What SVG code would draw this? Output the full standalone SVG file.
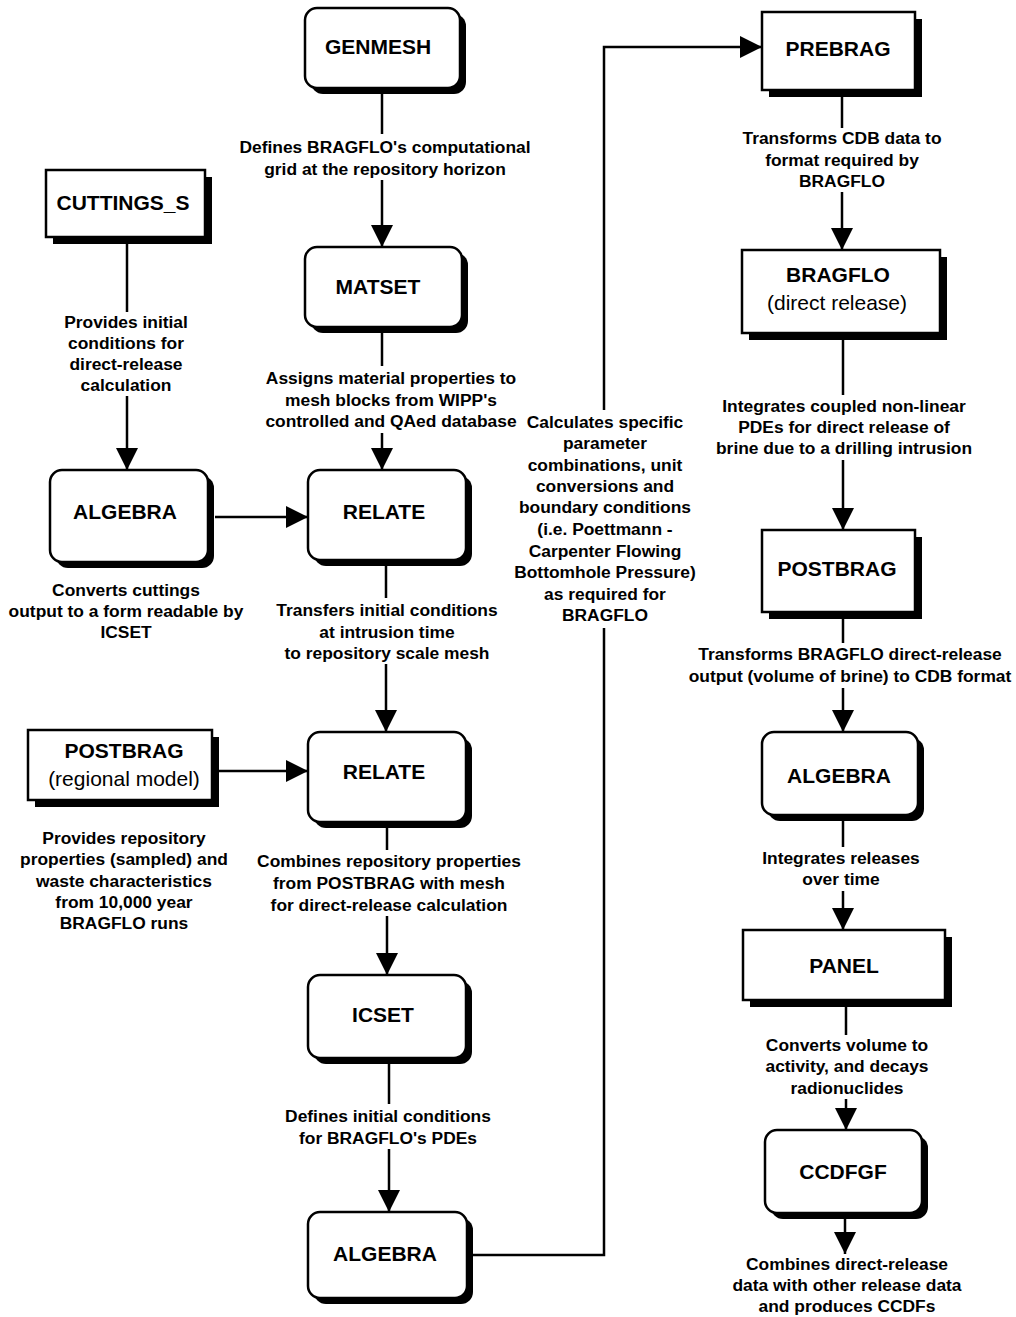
<svg xmlns="http://www.w3.org/2000/svg" width="1016" height="1317" viewBox="0 0 1016 1317">
<style>
.bg{fill:#fff}
.box{fill:#fff;stroke:#000;stroke-width:2.5}
.sh{fill:#000}
.name{font-family:"Liberation Sans",Arial,sans-serif;font-weight:bold;font-size:21px;text-anchor:middle;fill:#000}
.sub{font-family:"Liberation Sans",Arial,sans-serif;font-size:21px;text-anchor:middle;fill:#000}
.desc{font-family:"Liberation Sans",Arial,sans-serif;font-weight:bold;font-size:17.4px;text-anchor:middle;fill:#000}
.conn{stroke:#000;stroke-width:2.5;fill:none}
</style>
<defs>
<marker id="arr" markerUnits="userSpaceOnUse" markerWidth="22" markerHeight="22" refX="22" refY="11" orient="auto">
<path d="M0,0 L22,11 L0,22 z" fill="#000"/>
</marker>
</defs>
<rect class="bg" x="0" y="0" width="1016" height="1317"/>

<g id="connectors">
<line class="conn" x1="382" y1="88" x2="382" y2="134"/>
<line class="conn" x1="382" y1="180" x2="382" y2="247" marker-end="url(#arr)"/>
<line class="conn" x1="382" y1="327" x2="382" y2="366"/>
<line class="conn" x1="382" y1="433" x2="382" y2="470" marker-end="url(#arr)"/>
<line class="conn" x1="386" y1="560" x2="386" y2="598"/>
<line class="conn" x1="386" y1="664" x2="386" y2="732" marker-end="url(#arr)"/>
<line class="conn" x1="387" y1="822" x2="387" y2="850"/>
<line class="conn" x1="387" y1="916" x2="387" y2="975" marker-end="url(#arr)"/>
<line class="conn" x1="389" y1="1058" x2="389" y2="1104"/>
<line class="conn" x1="389" y1="1149" x2="389" y2="1212" marker-end="url(#arr)"/>
<polyline class="conn" points="467,1255 604,1255 604,628"/>
<polyline class="conn" points="604,410 604,47 762,47" marker-end="url(#arr)"/>
<line class="conn" x1="127" y1="237" x2="127" y2="312"/>
<line class="conn" x1="127" y1="396" x2="127" y2="470" marker-end="url(#arr)"/>
<line class="conn" x1="215" y1="517" x2="308" y2="517" marker-end="url(#arr)"/>
<line class="conn" x1="218" y1="771" x2="308" y2="771" marker-end="url(#arr)"/>
<line class="conn" x1="842" y1="90" x2="842" y2="128"/>
<line class="conn" x1="842" y1="192" x2="842" y2="250" marker-end="url(#arr)"/>
<line class="conn" x1="843" y1="333" x2="843" y2="395"/>
<line class="conn" x1="843" y1="460" x2="843" y2="530" marker-end="url(#arr)"/>
<line class="conn" x1="843" y1="612" x2="843" y2="643"/>
<line class="conn" x1="843" y1="688" x2="843" y2="732" marker-end="url(#arr)"/>
<line class="conn" x1="843" y1="815" x2="843" y2="847"/>
<line class="conn" x1="843" y1="891" x2="843" y2="930" marker-end="url(#arr)"/>
<line class="conn" x1="846" y1="1000" x2="846" y2="1035"/>
<line class="conn" x1="846" y1="1099" x2="846" y2="1130" marker-end="url(#arr)"/>
<line class="conn" x1="845" y1="1213" x2="845" y2="1254" marker-end="url(#arr)"/>
</g>

<g id="genmesh">
<rect class="sh" x="311" y="14" width="155" height="80" rx="12"/>
<rect class="box" x="305" y="8" width="155" height="80" rx="12"/>
<text class="name" x="378" y="54">GENMESH</text>
</g>
<text class="desc" x="385" y="153">Defines BRAGFLO's computational</text>
<text class="desc" x="385" y="175">grid at the repository horizon</text>

<g id="cuttings_s">
<rect class="sh" x="53" y="177" width="159" height="67"/>
<rect class="box" x="46" y="170" width="159" height="67"/>
<text class="name" x="123" y="210">CUTTINGS_S</text>
</g>
<text class="desc" x="126" y="328">Provides initial</text>
<text class="desc" x="126" y="349">conditions for</text>
<text class="desc" x="126" y="370">direct-release</text>
<text class="desc" x="126" y="391">calculation</text>

<g id="matset">
<rect class="sh" x="311" y="253" width="157" height="80" rx="12"/>
<rect class="box" x="305" y="247" width="157" height="80" rx="12"/>
<text class="name" x="378" y="294">MATSET</text>
</g>
<text class="desc" x="391" y="384">Assigns material properties to</text>
<text class="desc" x="391" y="406">mesh blocks from WIPP's</text>
<text class="desc" x="391" y="427">controlled and QAed database</text>

<g id="algebra_left">
<rect class="sh" x="56" y="476" width="158" height="92" rx="12"/>
<rect class="box" x="50" y="470" width="158" height="92" rx="12"/>
<text class="name" x="125" y="519">ALGEBRA</text>
</g>
<text class="desc" x="126" y="596">Converts cuttings</text>
<text class="desc" x="126" y="617">output to a form readable by</text>
<text class="desc" x="126" y="638">ICSET</text>

<g id="relate_1">
<rect class="sh" x="314" y="476" width="158" height="90" rx="12"/>
<rect class="box" x="308" y="470" width="158" height="90" rx="12"/>
<text class="name" x="384" y="519">RELATE</text>
</g>
<text class="desc" x="387" y="616">Transfers initial conditions</text>
<text class="desc" x="387" y="638">at intrusion time</text>
<text class="desc" x="387" y="659">to repository scale mesh</text>

<g id="postbrag_regional">
<rect class="sh" x="35" y="737" width="184" height="70"/>
<rect class="box" x="28" y="730" width="184" height="70"/>
<text class="name" x="124" y="758">POSTBRAG</text>
<text class="sub" x="124" y="786">(regional model)</text>
</g>
<text class="desc" x="124" y="844">Provides repository</text>
<text class="desc" x="124" y="865">properties (sampled) and</text>
<text class="desc" x="124" y="887">waste characteristics</text>
<text class="desc" x="124" y="908">from 10,000 year</text>
<text class="desc" x="124" y="929">BRAGFLO runs</text>

<g id="relate_2">
<rect class="sh" x="314" y="738" width="158" height="90" rx="12"/>
<rect class="box" x="308" y="732" width="158" height="90" rx="12"/>
<text class="name" x="384" y="779">RELATE</text>
</g>
<text class="desc" x="389" y="867">Combines repository properties</text>
<text class="desc" x="389" y="889">from POSTBRAG with mesh</text>
<text class="desc" x="389" y="911">for direct-release calculation</text>

<g id="icset">
<rect class="sh" x="314" y="981" width="158" height="83" rx="12"/>
<rect class="box" x="308" y="975" width="158" height="83" rx="12"/>
<text class="name" x="383" y="1022">ICSET</text>
</g>
<text class="desc" x="388" y="1122">Defines initial conditions</text>
<text class="desc" x="388" y="1144">for BRAGFLO's PDEs</text>

<g id="algebra_bottom">
<rect class="sh" x="314" y="1218" width="159" height="86" rx="12"/>
<rect class="box" x="308" y="1212" width="159" height="86" rx="12"/>
<text class="name" x="385" y="1261">ALGEBRA</text>
</g>

<text class="desc" x="605" y="428">Calculates specific</text>
<text class="desc" x="605" y="449">parameter</text>
<text class="desc" x="605" y="471">combinations, unit</text>
<text class="desc" x="605" y="492">conversions and</text>
<text class="desc" x="605" y="513">boundary conditions</text>
<text class="desc" x="605" y="535">(i.e. Poettmann -</text>
<text class="desc" x="605" y="557">Carpenter Flowing</text>
<text class="desc" x="605" y="578">Bottomhole Pressure)</text>
<text class="desc" x="605" y="600">as required for</text>
<text class="desc" x="605" y="621">BRAGFLO</text>

<g id="prebrag">
<rect class="sh" x="769" y="19" width="153" height="78"/>
<rect class="box" x="762" y="12" width="153" height="78"/>
<text class="name" x="838" y="56">PREBRAG</text>
</g>
<text class="desc" x="842" y="144">Transforms CDB data to</text>
<text class="desc" x="842" y="166">format required by</text>
<text class="desc" x="842" y="187">BRAGFLO</text>

<g id="bragflo">
<rect class="sh" x="749" y="257" width="198" height="83"/>
<rect class="box" x="742" y="250" width="198" height="83"/>
<text class="name" x="838" y="282">BRAGFLO</text>
<text class="sub" x="837" y="310">(direct release)</text>
</g>
<text class="desc" x="844" y="412">Integrates coupled non-linear</text>
<text class="desc" x="844" y="433">PDEs for direct release of</text>
<text class="desc" x="844" y="454">brine due to a drilling intrusion</text>

<g id="postbrag">
<rect class="sh" x="769" y="537" width="153" height="82"/>
<rect class="box" x="762" y="530" width="153" height="82"/>
<text class="name" x="837" y="576">POSTBRAG</text>
</g>
<text class="desc" x="850" y="660">Transforms BRAGFLO direct-release</text>
<text class="desc" x="850" y="682">output (volume of brine) to CDB format</text>

<g id="algebra_right">
<rect class="sh" x="768" y="738" width="156" height="83" rx="12"/>
<rect class="box" x="762" y="732" width="156" height="83" rx="12"/>
<text class="name" x="839" y="783">ALGEBRA</text>
</g>
<text class="desc" x="841" y="864">Integrates releases</text>
<text class="desc" x="841" y="885">over time</text>

<g id="panel">
<rect class="sh" x="750" y="937" width="202" height="70"/>
<rect class="box" x="743" y="930" width="202" height="70"/>
<text class="name" x="844" y="973">PANEL</text>
</g>
<text class="desc" x="847" y="1051">Converts volume to</text>
<text class="desc" x="847" y="1072">activity, and decays</text>
<text class="desc" x="847" y="1094">radionuclides</text>

<g id="ccdfgf">
<rect class="sh" x="771" y="1136" width="157" height="83" rx="12"/>
<rect class="box" x="765" y="1130" width="157" height="83" rx="12"/>
<text class="name" x="843" y="1179">CCDFGF</text>
</g>
<text class="desc" x="847" y="1270">Combines direct-release</text>
<text class="desc" x="847" y="1291">data with other release data</text>
<text class="desc" x="847" y="1312">and produces CCDFs</text>
</svg>
